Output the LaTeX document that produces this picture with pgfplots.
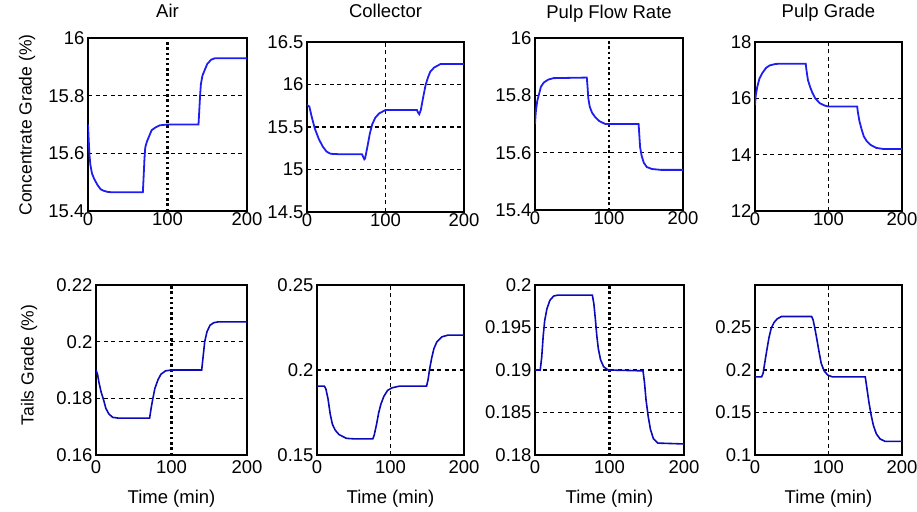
\documentclass[border=0pt]{standalone}
\usepackage{fontspec}
\setmainfont{Liberation Sans}
\usepackage{pgfplots}
\pgfplotsset{compat=1.18}
\definecolor{topblue}{RGB}{30,30,240}
\definecolor{botblue}{RGB}{10,10,185}
\newcommand{\tickfont}{\fontsize{18.5}{20}\selectfont}
\pgfplotsset{
  mat/.style={
    scale only axis, xmin=0, xmax=200, xtick={0,100,200},
    axis line style={line width=2pt, black},
    major tick length=0pt,
    xmajorgrids, ymajorgrids,
    ticklabel style={font=\tickfont},
    /pgf/number format/assume math mode=true,
    /pgf/number format/precision=3,
    title style={font=\fontsize{18.5}{20}\selectfont, at={(0.5,1)}, anchor=base},
    xlabel style={font=\fontsize{18.5}{20}\selectfont, at={(0.5,0)}, anchor=base, yshift=-48pt},
    y grid style={black, line width=1.4pt, dash pattern=on 4pt off 3.5pt},
  },
  dotx/.style={x grid style={black, line width=2.2pt, dash pattern=on 2.4pt off 2.8pt}},
  dashx/.style={x grid style={black, line width=1.4pt, dash pattern=on 4pt off 3.5pt}},
  toprow/.style={xticklabel style={yshift=2pt}},
  botrow/.style={xticklabel style={yshift=-2pt}, xlabel={Time (min)}},
  tline/.style={topblue, line width=1.8pt, no marks},
  bline/.style={botblue, line width=1.6pt, no marks},
}
\begin{document}
\begin{tikzpicture}
\useasboundingbox (0,0) rectangle (917pt,511pt);
% ---------------- Row 1 ----------------
\begin{axis}[mat, dotx, toprow, at={(88pt,300pt)}, anchor=south west, width=159pt, height=173pt,
  ymin=15.4, ymax=16, ytick={15.4,15.6,15.8,16}, title={Air}, title style={yshift=14pt}]
\addplot[tline] coordinates {(0,15.70)(1,15.64)(2,15.59)(3,15.56)(5,15.53)(8,15.51)(12,15.49)(16,15.475)(20,15.47)(25,15.466)(30,15.465)(69,15.465)(70,15.52)(71,15.58)(72,15.62)(74,15.64)(77,15.66)(80,15.68)(85,15.69)(90,15.697)(100,15.70)(139,15.70)(140,15.75)(141,15.80)(142,15.84)(144,15.87)(147,15.89)(150,15.91)(155,15.925)(160,15.93)(200,15.93)};
\end{axis}
\begin{axis}[mat, dashx, toprow, at={(307pt,299pt)}, anchor=south west, width=157pt, height=170pt,
  ymin=14.5, ymax=16.5, ytick={14.5,15,15.5,16,16.5}, title={Collector}, title style={yshift=18pt}]
\addplot[tline] coordinates {(0,15.76)(3,15.74)(6,15.62)(10,15.48)(15,15.36)(20,15.27)(25,15.21)(30,15.185)(40,15.18)(70,15.18)(72,15.14)(73,15.12)(74,15.13)(77,15.27)(80,15.42)(83,15.53)(87,15.61)(92,15.66)(100,15.70)(140,15.70)(142,15.66)(143,15.65)(145,15.70)(148,15.85)(151,15.99)(154,16.08)(157,16.15)(162,16.20)(170,16.24)(200,16.24)};
\end{axis}
\begin{axis}[mat, dotx, toprow, at={(535pt,301pt)}, anchor=south west, width=148pt, height=172pt,
  ymin=15.4, ymax=16, ytick={15.4,15.6,15.8,16}, title={Pulp Flow Rate}, title style={yshift=14pt}]
\addplot[tline] coordinates {(0,15.70)(1,15.74)(3,15.78)(5,15.80)(8,15.83)(12,15.845)(18,15.855)(25,15.86)(70,15.862)(71,15.83)(72,15.79)(74,15.76)(77,15.74)(81,15.725)(87,15.71)(95,15.70)(140,15.70)(141,15.66)(142,15.62)(144,15.59)(147,15.565)(151,15.55)(158,15.543)(170,15.54)(200,15.54)};
\end{axis}
\begin{axis}[mat, dashx, toprow, at={(755pt,300pt)}, anchor=south west, width=147pt, height=169pt,
  ymin=12, ymax=18, ytick={12,14,16,18}, title={Pulp Grade}, title style={yshift=18pt}]
\addplot[tline] coordinates {(0,15.77)(1,16.1)(3,16.4)(6,16.7)(10,16.9)(15,17.08)(20,17.17)(28,17.22)(35,17.23)(69,17.23)(70,17.0)(72,16.65)(75,16.4)(78,16.2)(82,16.0)(88,15.83)(95,15.74)(100,15.71)(139,15.71)(140,15.5)(142,15.2)(145,14.9)(148,14.65)(152,14.48)(157,14.35)(165,14.24)(175,14.2)(200,14.2)};
\end{axis}
% ---------------- Row 2 ----------------
\begin{axis}[mat, dotx, botrow, at={(96pt,56pt)}, anchor=south west, width=151pt, height=170pt,
  ymin=0.16, ymax=0.22, ytick={0.16,0.18,0.2,0.22}]
\addplot[bline] coordinates {(0,0.190)(2,0.1885)(4,0.1855)(7,0.182)(10,0.1795)(13,0.1765)(17,0.1745)(22,0.1733)(30,0.173)(71,0.173)(73,0.1765)(75,0.1795)(78,0.1835)(82,0.1865)(86,0.1885)(92,0.1897)(100,0.190)(140,0.190)(142,0.195)(144,0.2)(147,0.2035)(151,0.2058)(156,0.2067)(162,0.207)(200,0.207)};
\end{axis}
\begin{axis}[mat, dashx, botrow, at={(317pt,56pt)}, anchor=south west, width=147pt, height=170pt,
  ymin=0.15, ymax=0.25, ytick={0.15,0.2,0.25}]
\addplot[bline] coordinates {(0,0.1905)(10,0.1905)(12,0.189)(15,0.183)(18,0.174)(21,0.168)(25,0.1645)(30,0.162)(40,0.1598)(50,0.1595)(76,0.1595)(78,0.162)(81,0.168)(84,0.175)(87,0.180)(91,0.1845)(96,0.188)(102,0.1895)(112,0.1905)(149,0.1905)(151,0.194)(153,0.200)(156,0.207)(159,0.2125)(163,0.2165)(170,0.2195)(178,0.2205)(200,0.2205)};
\end{axis}
\begin{axis}[mat, dotx, botrow, at={(535pt,56pt)}, anchor=south west, width=149pt, height=170pt,
  ymin=0.18, ymax=0.2, ytick={0.18,0.185,0.19,0.195,0.2}]
\addplot[bline] coordinates {(0,0.190)(7,0.190)(9,0.1915)(11,0.1940)(13,0.1958)(16,0.1972)(20,0.1982)(25,0.1987)(30,0.1988)(77,0.1988)(79,0.1978)(81,0.1960)(83,0.1940)(85,0.1925)(88,0.1912)(92,0.1904)(98,0.1900)(145,0.1899)(147,0.1885)(149,0.1865)(152,0.1845)(155,0.1830)(159,0.1819)(165,0.1814)(200,0.1813)};
\end{axis}
\begin{axis}[mat, dashx, botrow, at={(755pt,56pt)}, anchor=south west, width=147pt, height=170pt,
  ymin=0.1, ymax=0.3, ytick={0.1,0.15,0.2,0.25}]
\addplot[bline] coordinates {(0,0.192)(9,0.192)(11,0.196)(13,0.207)(16,0.223)(19,0.238)(22,0.249)(26,0.256)(30,0.260)(36,0.263)(77,0.263)(79,0.259)(81,0.251)(84,0.237)(87,0.222)(90,0.208)(94,0.199)(99,0.194)(105,0.192)(150,0.192)(152,0.180)(155,0.162)(158,0.147)(161,0.135)(165,0.125)(170,0.119)(177,0.116)(200,0.116)};
\end{axis}
% y labels
\node[rotate=90, font=\fontsize{17.5}{20}\selectfont] at (27pt,386pt) {Concentrate Grade (\%)};
\node[rotate=90, font=\fontsize{17.5}{20}\selectfont] at (29pt,146pt) {Tails Grade (\%)};
\end{tikzpicture}
\end{document}
